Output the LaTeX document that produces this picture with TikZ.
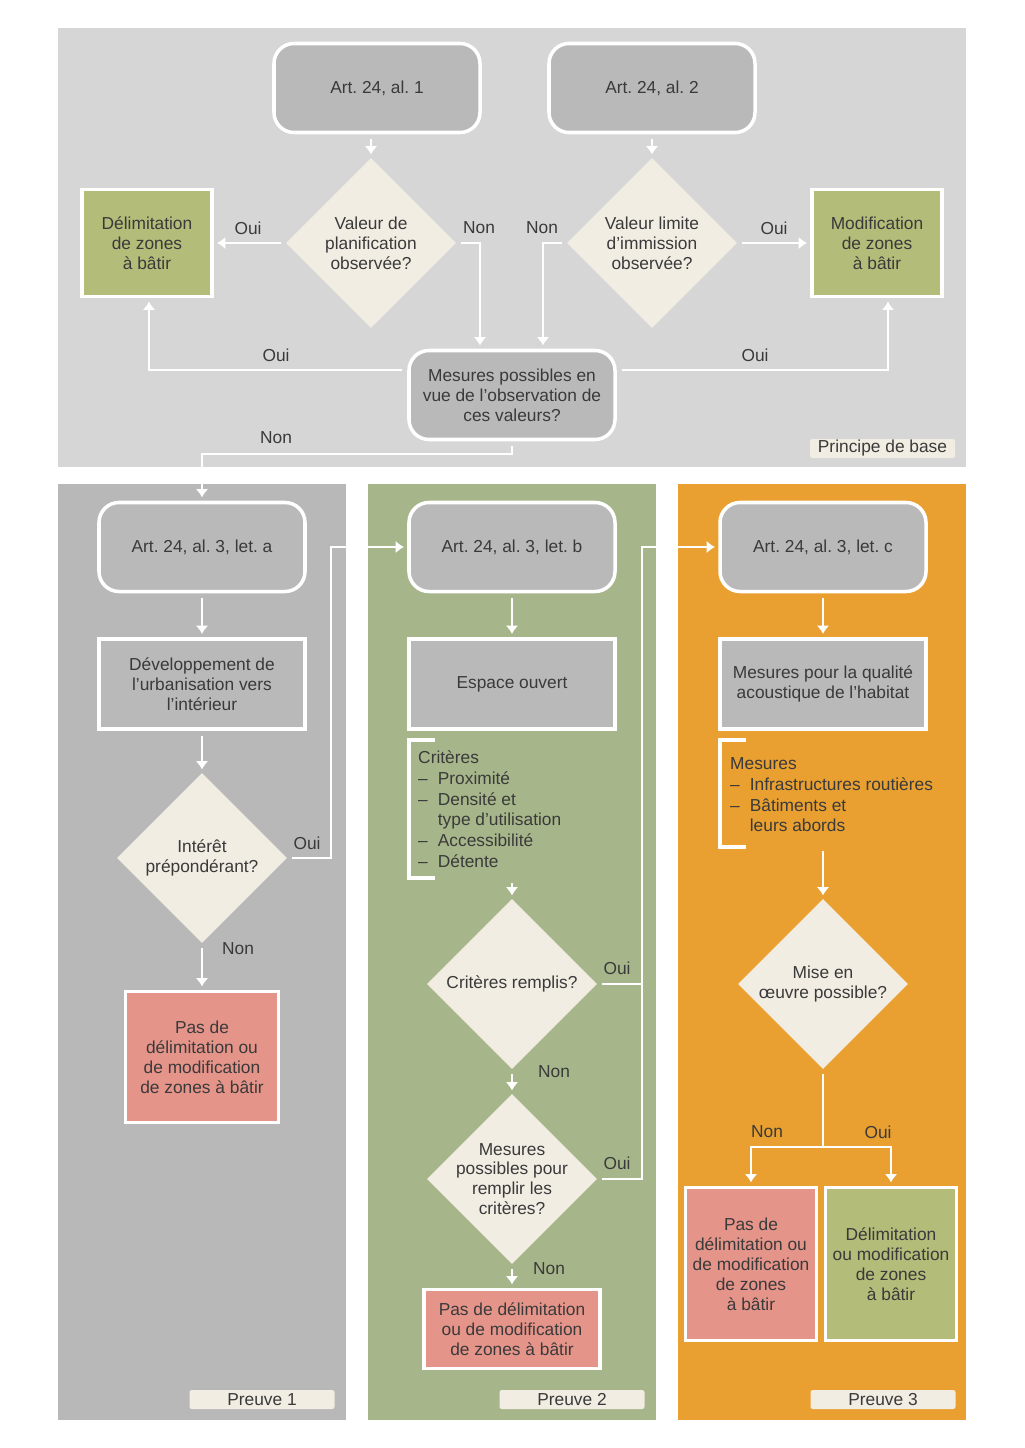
\documentclass[tikz,border=0pt]{standalone}
\usepackage{fontspec}
\setmainfont{Liberation Sans}
\usetikzlibrary{shapes.geometric,arrows.meta}

\definecolor{topbg}{HTML}{D6D6D6}
\definecolor{panelgray}{HTML}{B9B8B8}
\definecolor{panelgreen}{HTML}{A7B68A}
\definecolor{panelorange}{HTML}{E9A030}
\definecolor{boxgray}{HTML}{B9B9B9}
\definecolor{cream}{HTML}{F2EDE3}
\definecolor{olive}{HTML}{B3BC78}
\definecolor{salmon}{HTML}{E5948A}
\definecolor{ink}{HTML}{3A3A3A}

\tikzset{
    every node/.style={font=\fontsize{14.8}{17}\selectfont, text=ink},
    art/.style={draw=white, line width=3pt, fill=boxgray, rounded corners=6mm,
        minimum width=61.8mm, minimum height=26.7mm, align=center},
    topic/.style={draw=white, line width=3pt, fill=boxgray,
        minimum width=61.8mm, minimum height=27mm, align=center},
    query/.style={diamond, fill=cream, minimum width=51mm, minimum height=51mm,
        inner sep=-4pt, align=center},
    okbox/.style={draw=white, line width=3pt, fill=olive, align=center},
    nobox/.style={draw=white, line width=3pt, fill=salmon, align=center},
    tag/.style={fill=cream, rounded corners=2pt, minimum width=43.5mm,
        minimum height=5.7mm, inner sep=0pt},
    lbl/.style={inner sep=0pt},
    listing/.style={inner sep=0pt, align=left, font=\fontsize{14.8}{17.7}\selectfont},
    link/.style={white, line width=1.7pt},
    brace/.style={white, line width=3pt},
    arr/.style={link, ->, shorten >=1mm, shorten <=1.5mm},
}

\begin{document}
\begin{tikzpicture}[x=0.3mm, y=-0.3mm, >={Latex[length=2.5mm,width=3.8mm]}]
    \useasboundingbox (0,0) rectangle (1024,1448);
    \fill[white] (0,0) rectangle (1024,1448);
    \fill[topbg] (58,28) rectangle (966,467);
    \fill[panelgray] (58,484) rectangle (346,1420);
    \fill[panelgreen] (368,484) rectangle (656,1420);
    \fill[panelorange] (678,484) rectangle (966,1420);

    \node[art] (art1) at (377,88) {Art.~24, al.~1};
    \node[art] (art2) at (652,88) {Art.~24, al.~2};
    \node[query] (plan) at (371,243) {Valeur de\\planification\\observée?};
    \node[query] (immi) at (652,243) {Valeur limite\\d’immission\\observée?};
    \node[okbox, minimum width=39mm, minimum height=32.1mm] (delim) at (147,243) {Délimitation\\de zones\\à bâtir};
    \node[okbox, minimum width=39mm, minimum height=32.1mm] (modif) at (877,243) {Modification\\de zones\\à bâtir};
    \node[art] (meas) at (512,395) {Mesures possibles en\\vue de l’observation de\\ces valeurs?};
    \node[tag] (base) at (882.5,448.5) {Principe de base};

    \draw[arr] (art1.south -| plan.north) -- (plan.north);
    \draw[arr] (art2.south) -- (immi.north);
    \draw[arr] (plan.west) -- (delim.east);
    \draw[arr] (immi.east) -- (modif.west);
    \draw[arr] (plan.east) -| ([xshift=-9.6mm]meas.north);
    \draw[arr] (immi.west) -| ([xshift=9.3mm]meas.north);
    \draw[arr] ([yshift=7.5mm]meas.west) -| ([xshift=0.6mm]delim.south);
    \draw[arr] ([yshift=7.5mm]meas.east) -| ([xshift=3.3mm]modif.south);
    \node[lbl] (oui1) at (248,228) {Oui};
    \node[lbl] (non1) at (479,228) {Non};
    \node[lbl] (non2) at (542,228) {Non};
    \node[lbl] (oui2) at (774,228) {Oui};
    \node[lbl] (oui3) at (276,355) {Oui};
    \node[lbl] (oui4) at (755,355) {Oui};
    \node[lbl] (non3) at (276,438) {Non};

    \node[art] (arta) at (202,547) {Art.~24, al.~3, let.~a};
    \node[topic] (devel) at (202,684) {Développement de\\l’urbanisation vers\\l’intérieur};
    \node[query] (inter) at (202,858) {Intérêt\\prépondérant?};
    \node[nobox, minimum width=45.9mm, minimum height=39.3mm] (pas1) at (202,1057) {Pas de\\délimitation ou\\de modification\\de zones à bâtir};
    \node[tag] (proof1) at (262,1399.5) {Preuve 1};
    \node[lbl] (oui5) at (307,843) {Oui};
    \node[lbl] (non4) at (238,949) {Non};

    \node[art] (artb) at (512,547) {Art.~24, al.~3, let.~b};
    \node[topic] (space) at (512,684) {Espace ouvert};
    \node[listing, anchor=north west] (critlist) at (418,749) {%
        \begin{tabular}{@{}l@{\hspace{3mm}}l@{}}
        \multicolumn{2}{@{}l}{Critères}\\
        – & Proximité\\
        – & Densité et\\
          & type d’utilisation\\
        – & Accessibilité\\
        – & Détente
        \end{tabular}};
    \draw[brace] (435,740) -| (409,878) -- (435,878);
    \coordinate (critend) at (512,878);
    \node[query] (critq) at (512,984) {Critères remplis?};
    \node[query] (measq) at (512,1179) {Mesures\\possibles pour\\remplir les\\critères?};
    \node[nobox, minimum width=52.8mm, minimum height=23.7mm] (pas2) at (512,1329) {Pas de délimitation\\ou de modification\\de zones à bâtir};
    \node[tag] (proof2) at (572,1399.5) {Preuve 2};
    \node[lbl] (oui6) at (617,968) {Oui};
    \node[lbl] (non5) at (554,1072) {Non};
    \node[lbl] (oui7) at (617,1163) {Oui};
    \node[lbl] (non6) at (549,1269) {Non};

    \node[art] (artc) at (823,547) {Art.~24, al.~3, let.~c};
    \node[topic] (acoust) at (823,684) {Mesures pour la qualité\\acoustique de l’habitat};
    \node[listing, anchor=north west] (measlist) at (730,755) {%
        \begin{tabular}{@{}l@{\hspace{3mm}}l@{}}
        \multicolumn{2}{@{}l}{Mesures}\\
        – & Infrastructures routières\\
        – & Bâtiments et\\
          & leurs abords
        \end{tabular}};
    \draw[brace] (746,740) -| (720,847) -- (746,847);
    \coordinate (measend) at (823,846);
    \node[query] (mise) at (823,984) {Mise en\\œuvre possible?};
    \node[nobox, minimum width=39.3mm, minimum height=45.9mm] (nope) at (751,1264) {Pas de\\délimitation ou\\de modification\\de zones\\à bâtir};
    \node[okbox, minimum width=39.3mm, minimum height=45.9mm] (zone) at (891,1264) {Délimitation\\ou modification\\de zones\\à bâtir};
    \node[tag] (proof3) at (883,1399.5) {Preuve 3};
    \node[lbl] (non7) at (767,1132) {Non};
    \node[lbl] (oui8) at (878,1132) {Oui};

    \draw[arr] (meas.south) -- ++(0,13) -| (arta.north);
    \draw[arr] (arta.south) -- (devel.north);
    \draw[arr] (devel.south) -- (inter.north);
    \draw[arr] (inter.south) -- (pas1.north);
    \draw[arr] (inter.east) -- ++(44,0) |- (artb.west);

    \draw[arr] (artb.south) -- (space.north);
    \draw[arr] (critend) -- (critq.north);
    \draw[arr] (critq.south) -- (measq.north);
    \draw[arr] (measq.south) -- (pas2.north);
    \draw[arr] (critq.east) -- ++(45,0) |- (artc.west);
    \draw[link, shorten <=1.5mm] (measq.east) -- ++(45,0) -- ++(0,-195);

    \draw[arr] (artc.south) -- (acoust.north);
    \draw[arr] (measend) -- (mise.north);
    \draw[link, shorten <=1.5mm] (mise.south) -- ++(0,78) coordinate (fork);
    \draw[link, ->, shorten >=1mm] (fork) -| (nope.north);
    \draw[link, ->, shorten >=1mm] (fork) -| (zone.north);
\end{tikzpicture}
\end{document}
